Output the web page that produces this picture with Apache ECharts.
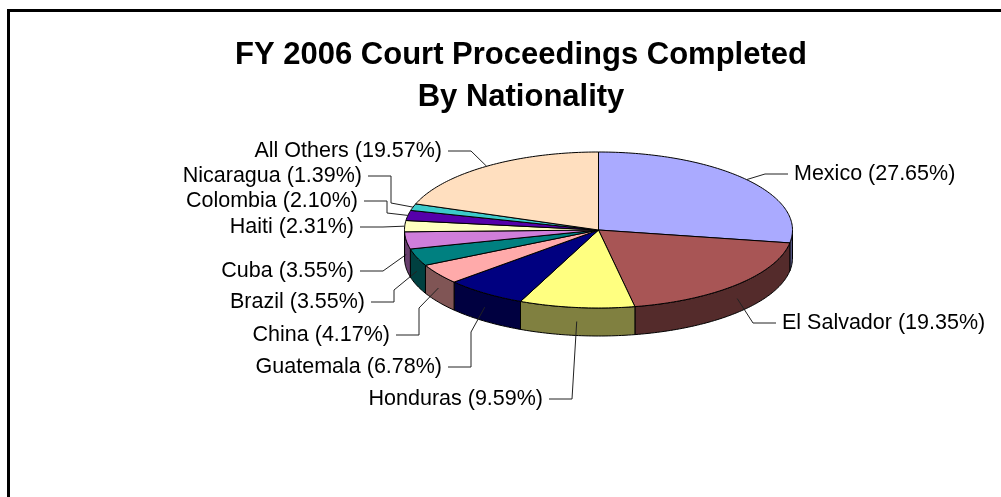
<!DOCTYPE html>
<html>
<head>
<meta charset="utf-8">
<script src="https://cdn.jsdelivr.net/npm/echarts@6/dist/echarts.min.js"></script>
<style>
html,body{margin:0;padding:0;background:#fff;}
#chart{width:1001px;height:497px;}
</style>
</head>
<body>
<div id="chart"></div>
<script>
// ---- data ----
const categories = ['Mexico','El Salvador','Honduras','Guatemala','China','Brazil','Cuba','Haiti','Colombia','Nicaragua','All Others'];
const shares = [27.65, 19.35, 9.59, 6.78, 4.17, 3.55, 3.55, 2.31, 2.10, 1.39, 19.57];
const titleLines = ['FY 2006 Court Proceedings Completed', 'By Nationality'];

// ---- styles / layout ----
const sliceColors = ['#AAAAFF','#A85555','#FFFF80','#000080','#FFAAAA','#008080','#CF7EDA','#FFFFC0','#5500AA','#3CCACA','#FFDFBF'];
// [text x, text y, side ('L' = text left of line), bend y or null]
const labelLayout = [
  [794, 174, 'R', null],
  [782, 323, 'R', null],
  [543, 399, 'L', null],
  [442, 367, 'L', 332],
  [390, 335, 'L', 308],
  [365, 302, 'L', 290],
  [354, 271, 'L', null],
  [354, 227, 'L', null],
  [358, 201, 'L', 213],
  [362, 176, 'L', 203],
  [442, 151, 'L', null]
];
const PIE = {cx: 598.5, cy: 230, rx: 194, ry: 78, depth: 28};
const FONT = '"Liberation Sans", Arial, Helvetica, sans-serif';

const total = shares.reduce((a, b) => a + b, 0);
const starts = [];
let acc = 0;
shares.forEach(v => { starts.push(acc); acc += v; });

function pt(deg, dy) {
  const r = deg * Math.PI / 180;
  return [PIE.cx + PIE.rx * Math.sin(r), PIE.cy - PIE.ry * Math.cos(r) + (dy || 0)];
}
function arc(a1, a2, dy) {
  const n = Math.max(2, Math.ceil(Math.abs(a2 - a1)) + 1);
  const pts = [];
  for (let i = 0; i < n; i++) pts.push(pt(a1 + (a2 - a1) * i / (n - 1), dy));
  return pts;
}
function darken(hex, f) {
  const n = parseInt(hex.slice(1), 16);
  const r = Math.round(((n >> 16) & 255) * f), g = Math.round(((n >> 8) & 255) * f), b = Math.round((n & 255) * f);
  return 'rgb(' + r + ',' + g + ',' + b + ')';
}

function renderItem(params, api) {
  const i = params.dataIndex;
  const v = api.value(0);
  const a1 = starts[i] / total * 360;
  const a2 = a1 + v / total * 360;
  const color = sliceColors[i];
  const children = [];
  const s1 = Math.max(a1, 90), s2 = Math.min(a2, 270);
  if (s2 > s1) {
    const top = arc(s1, s2, 0);
    const bot = arc(s1, s2, PIE.depth).reverse();
    children.push({
      type: 'polygon',
      shape: {points: top.concat(bot)},
      style: {fill: darken(color, 0.5), stroke: '#000', lineWidth: 1, lineJoin: 'round'}
    });
  }
  children.push({
    type: 'polygon',
    shape: {points: [[PIE.cx, PIE.cy]].concat(arc(a1, a2, 0))},
    style: {fill: color, stroke: '#000', lineWidth: 1, lineJoin: 'round'}
  });
  // label + leader line
  const mid = (a1 + a2) / 2;
  const anchor = pt(mid, (mid > 90 && mid < 270) ? PIE.depth / 2 : 0);
  const L = labelLayout[i];
  const tx = L[0], ty = L[1], side = L[2], bend = L[3];
  const dir = side === 'L' ? 1 : -1;
  const p0 = [tx + dir * 6, ty];
  const p1 = [tx + dir * 29, ty];
  const pts = [p0, p1];
  if (bend !== null) pts.push([p1[0], bend]);
  pts.push(anchor);
  children.push({
    type: 'polyline',
    shape: {points: pts},
    style: {stroke: '#222', lineWidth: 1, fill: null}
  });
  children.push({
    type: 'text',
    x: tx, y: ty,
    style: {
      text: categories[i] + ' (' + v.toFixed(2) + '%)',
      fontSize: 21.5, fontFamily: FONT, fill: '#000',
      align: side === 'L' ? 'right' : 'left', verticalAlign: 'middle'
    }
  });
  return {type: 'group', children: children};
}

const chart = echarts.init(document.getElementById('chart'), null, {renderer: 'canvas'});
chart.setOption({
  animation: false,
  backgroundColor: '#fff',
  graphic: [
    {type: 'rect', shape: {x: 8.5, y: 10.5, width: 1100, height: 600}, style: {fill: 'none', stroke: '#000', lineWidth: 3}, z: 10},
    {type: 'text', x: 521, y: 55, style: {text: titleLines[0], fontSize: 31, fontWeight: 'bold', fontFamily: FONT, fill: '#000', align: 'center', verticalAlign: 'middle'}},
    {type: 'text', x: 521, y: 97, style: {text: titleLines[1], fontSize: 31, fontWeight: 'bold', fontFamily: FONT, fill: '#000', align: 'center', verticalAlign: 'middle'}}
  ],
  series: [{
    type: 'custom',
    coordinateSystem: 'none',
    silent: true,
    renderItem: renderItem,
    data: shares.map((v, i) => ({name: categories[i], value: [v]}))
  }]
});
</script>
</body>
</html>
